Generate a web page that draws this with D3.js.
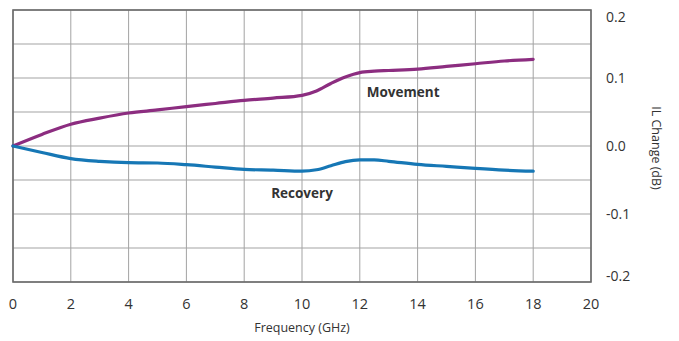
<!DOCTYPE html>
<html>
<head>
<meta charset="utf-8">
<script src="https://cdn.jsdelivr.net/npm/d3@7"></script>
<style>
  html, body { margin: 0; padding: 0; background: #fff; }
  svg { display: block; }
  text { font-family: "Open Sans", sans-serif; fill: #333; }
</style>
</head>
<body>
<svg id="chart" width="679" height="341"></svg>
<script>
// Frequency axis (GHz)
const freq = [0, 1, 2, 3, 4, 5, 6, 7, 8, 9, 10, 10.5, 11, 11.5, 12, 12.5, 13, 14, 15, 16, 17, 18];
// Insertion-loss change (dB) after movement and after recovery
const movement = [0, 0.017, 0.032, 0.041, 0.0485, 0.053, 0.058, 0.0625, 0.067, 0.0705, 0.0745, 0.081, 0.092, 0.1015, 0.108, 0.11, 0.111, 0.113, 0.117, 0.121, 0.125, 0.1275];
const recovery = [0, -0.0095, -0.0185, -0.0225, -0.0245, -0.025, -0.0275, -0.031, -0.0345, -0.0355, -0.037, -0.035, -0.029, -0.023, -0.0205, -0.0205, -0.0225, -0.027, -0.030, -0.033, -0.0355, -0.037];

const xTicks = [0, 2, 4, 6, 8, 10, 12, 14, 16, 18, 20];
const yTicks = [0.2, 0.1, 0.0, -0.1, -0.2];
const yGrid = [0.2, 0.15, 0.1, 0.05, 0, -0.05, -0.1, -0.15, -0.2];

const svg = d3.select("#chart");
const m = { left: 13, right: 591, top: 10, bottom: 282 };

const x = d3.scaleLinear().domain([0, 20]).range([m.left, m.right]);
const y = d3.scaleLinear().domain([-0.2, 0.2]).range([m.bottom, m.top]);

// grid
const grid = svg.append("g").attr("stroke", "#a3a3a3").attr("stroke-width", 1);
grid.selectAll("line.v").data(xTicks).join("line")
  .attr("x1", d => x(d)).attr("x2", d => x(d))
  .attr("y1", m.top).attr("y2", m.bottom);
grid.selectAll("line.h").data(yGrid).join("line")
  .attr("x1", m.left).attr("x2", m.right)
  .attr("y1", d => y(d)).attr("y2", d => y(d));

// frame
svg.append("rect")
  .attr("x", m.left).attr("y", m.top)
  .attr("width", m.right - m.left).attr("height", m.bottom - m.top)
  .attr("fill", "none").attr("stroke", "#6b6b6b").attr("stroke-width", 1.6);

// curves
const line = (vals) => d3.line()
  .x((d, i) => x(freq[i]))
  .y(d => y(d))
  .curve(d3.curveMonotoneX)(vals);

svg.append("path").attr("d", line(movement))
  .attr("fill", "none").attr("stroke", "#8c2d80").attr("stroke-width", 3.2)
  .attr("stroke-linecap", "round");
svg.append("path").attr("d", line(recovery))
  .attr("fill", "none").attr("stroke", "#1677b5").attr("stroke-width", 3.2)
  .attr("stroke-linecap", "round");

// x tick labels
svg.append("g").selectAll("text").data(xTicks).join("text")
  .attr("x", d => x(d)).attr("y", 309)
  .attr("text-anchor", "middle").attr("font-size", 14.5)
  .text(d => d);

// y tick labels on the right, kept inside the frame height
svg.append("g").selectAll("text").data(yTicks).join("text")
  .attr("x", 606)
  .attr("y", d => Math.max(m.top + 7, Math.min(m.bottom - 6, y(d))))
  .attr("dy", "0.35em")
  .attr("font-size", 14)
  .text(d => d3.format(".1f")(d).replace("−", "-"));

// axis titles
svg.append("text")
  .attr("x", 302).attr("y", 332)
  .attr("text-anchor", "middle").attr("font-size", 12.5)
  .text("Frequency (GHz)");
svg.append("text")
  .attr("transform", "translate(652,148) rotate(90)")
  .attr("text-anchor", "middle").attr("font-size", 12.5)
  .text("IL Change (dB)");

// series labels
svg.append("text")
  .attr("x", x(13.5)).attr("y", 97)
  .attr("text-anchor", "middle").attr("font-size", 13.5).attr("font-weight", "bold")
  .attr("fill", "#222")
  .text("Movement");
svg.append("text")
  .attr("x", x(10)).attr("y", 198)
  .attr("text-anchor", "middle").attr("font-size", 13.5).attr("font-weight", "bold")
  .attr("fill", "#222")
  .text("Recovery");
</script>
</body>
</html>
